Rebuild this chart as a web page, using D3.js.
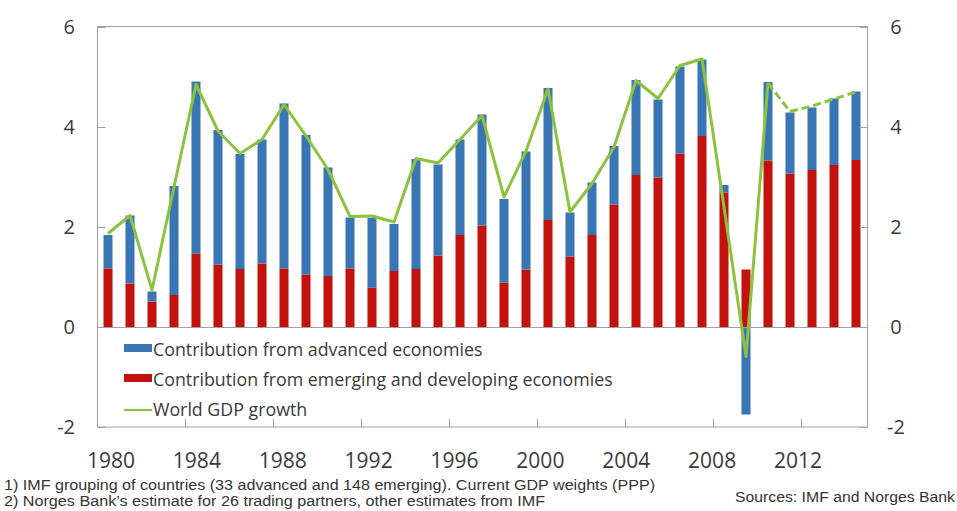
<!DOCTYPE html>
<html>
<head>
<meta charset="utf-8">
<script src="https://cdn.jsdelivr.net/npm/d3@7"></script>
<style>
  html, body { margin: 0; padding: 0; background: #ffffff; }
  svg { display: block; }
  text { font-family: "Open Sans", "Liberation Sans", Arial, sans-serif; fill: #3a3a3a; }
  text.note { font-family: "Liberation Sans Narrow", "Liberation Sans", Arial, sans-serif; fill: #333; }
</style>
</head>
<body>
<svg id="chart" width="957" height="511"></svg>
<script>
// ---------------- Data ----------------
const years = d3.range(1980, 2015);
const advanced = [0.67, 1.36, 0.20, 2.18, 3.44, 2.69, 2.30, 2.48, 3.30, 2.79,
                  2.17, 1.02, 1.39, 0.94, 2.20, 1.82, 1.91, 2.22, 1.67, 2.36,
                  2.64, 0.88, 1.05, 1.17, 1.90, 1.56, 1.74, 1.53, 0.15, -1.75,
                  1.57, 1.22, 1.25, 1.33, 1.37];
const emerging = [1.17, 0.87, 0.51, 0.64, 1.47, 1.25, 1.16, 1.27, 1.17, 1.05,
                  1.02, 1.17, 0.79, 1.12, 1.16, 1.43, 1.84, 2.03, 0.89, 1.15,
                  2.14, 1.41, 1.84, 2.45, 3.04, 2.99, 3.47, 3.82, 2.69, 1.15,
                  3.33, 3.07, 3.14, 3.24, 3.34];
const world = [1.87, 2.23, 0.74, 2.80, 4.85, 3.92, 3.47, 3.75, 4.45, 3.82,
               3.15, 2.21, 2.22, 2.10, 3.37, 3.28, 3.75, 4.23, 2.60, 3.52,
               4.76, 2.30, 2.87, 3.60, 4.93, 4.57, 5.23, 5.36, 2.40, -0.59,
               4.88, 4.31, 4.42, 4.56, 4.70];
const projectionStart = 2010;
const yTicks = [-2, 0, 2, 4, 6];
const xTickYears = [1980, 1984, 1988, 1992, 1996, 2000, 2004, 2008, 2012];
const seriesNames = ["Contribution from advanced economies",
                     "Contribution from emerging and developing economies",
                     "World GDP growth"];
const footnotes = ["1)  IMF grouping of countries (33 advanced and 148 emerging). Current GDP weights (PPP)",
                   "2)  Norges Bank\u2019s estimate for 26 trading partners, other estimates from IMF"];
const sourceText = "Sources: IMF and Norges Bank";

// ---------------- Styles ----------------
const COL_ADV = "#3a76b3";
const COL_EME = "#c3120d";
const COL_WORLD = "#8cc23f";
const COL_FRAME = "#a0a0a0";

const svg = d3.select("#chart");
const pLeft = 97, pRight = 867, pTop = 27, pBottom = 427;

const x = d3.scaleBand().domain(years).range([pLeft, pRight])
  .paddingInner(0.59).paddingOuter(0.295);
const y = d3.scaleLinear().domain([-2, 6]).range([pBottom, pTop]);
const xc = d => x(d) + x.bandwidth() / 2;

// table for stacking
const table = years.map((yr, i) => ({year: yr, adv: advanced[i], eme: emerging[i], world: world[i]}));
const stack = d3.stack().keys(["eme", "adv"]).offset(d3.stackOffsetDiverging);
const stacked = stack(table);
const colors = {eme: COL_EME, adv: COL_ADV};

// bars
const gBars = svg.append("g");
stacked.forEach(layer => {
  gBars.selectAll(null).data(layer).enter().append("rect")
    .attr("x", d => x(d.data.year))
    .attr("width", x.bandwidth())
    .attr("y", d => y(Math.max(d[0], d[1])))
    .attr("height", d => Math.abs(y(d[0]) - y(d[1])))
    .attr("fill", colors[layer.key]);
});

// zero line
svg.append("line")
  .attr("x1", pLeft).attr("x2", pRight)
  .attr("y1", Math.round(y(0)) + 0.5).attr("y2", Math.round(y(0)) + 0.5)
  .attr("stroke", COL_FRAME).attr("stroke-width", 1);

// frame
svg.append("rect")
  .attr("x", pLeft + 0.5).attr("y", pTop - 0.5)
  .attr("width", pRight - pLeft).attr("height", pBottom - pTop + 0.5)
  .attr("fill", "none").attr("stroke", COL_FRAME).attr("stroke-width", 1);

// y ticks (inward) both sides
const yAxisL = d3.axisLeft(y).tickValues(yTicks).tickSize(-8).tickFormat("");
const yAxisR = d3.axisRight(y).tickValues(yTicks).tickSize(-8).tickFormat("");
const gL = svg.append("g").attr("transform", `translate(${pLeft + 0.5},0)`).call(yAxisL);
const gR = svg.append("g").attr("transform", `translate(${pRight + 0.5},0)`).call(yAxisR);
[gL, gR].forEach(g => {
  g.select(".domain").remove();
  g.selectAll(".tick line").attr("stroke", COL_FRAME);
});

// y labels
svg.append("g").selectAll("text").data(yTicks).enter().append("text")
  .attr("x", 75).attr("y", d => y(d)).attr("dy", "0.36em")
  .attr("text-anchor", "end").attr("font-size", 20)
  .text(d => d);
svg.append("g").selectAll("text").data(yTicks).enter().append("text")
  .attr("x", 896).attr("y", d => y(d)).attr("dy", "0.36em")
  .attr("text-anchor", "middle").attr("font-size", 20)
  .text(d => d);

// x ticks (inward, at band boundaries every 4 years)
const halfGap = (x.step() - x.bandwidth()) / 2;
svg.append("g").selectAll("line").data(xTickYears).enter().append("line")
  .attr("x1", d => Math.round(x(d) - halfGap) + 0.5)
  .attr("x2", d => Math.round(x(d) - halfGap) + 0.5)
  .attr("y1", pBottom).attr("y2", pBottom - 8)
  .attr("stroke", COL_FRAME);

// x labels (label row is slightly compressed relative to the bars, as in the original)
const first = xTickYears[0], last = xTickYears[xTickYears.length - 1];
const xLab = d3.scaleLinear().domain([first, last]).range([xc(first) + 3, xc(last) - 14]);
svg.append("g").selectAll("text").data(xTickYears).enter().append("text")
  .attr("x", d => xLab(d))
  .attr("y", 468)
  .attr("text-anchor", "middle").attr("font-size", 21)
  .text(d => d);

// world line: solid until projection start, dashed after
const line = d3.line().x(d => xc(d.year)).y(d => y(d.world));
svg.append("path")
  .datum(table.filter(d => d.year <= projectionStart))
  .attr("d", line).attr("fill", "none")
  .attr("stroke", COL_WORLD).attr("stroke-width", 3).attr("stroke-linejoin", "round");
svg.append("path")
  .datum(table.filter(d => d.year >= projectionStart))
  .attr("d", line).attr("fill", "none")
  .attr("stroke", COL_WORLD).attr("stroke-width", 3)
  .attr("stroke-dasharray", "8,4");

// legend
const lg = svg.append("g");
const rowsY = [350, 380, 410];
lg.append("rect").attr("x", 124).attr("y", rowsY[0] - 6).attr("width", 28).attr("height", 8).attr("fill", COL_ADV);
lg.append("rect").attr("x", 124).attr("y", rowsY[1] - 6).attr("width", 28).attr("height", 8).attr("fill", COL_EME);
lg.append("line").attr("x1", 124).attr("x2", 152).attr("y1", rowsY[2]).attr("y2", rowsY[2])
  .attr("stroke", COL_WORLD).attr("stroke-width", 2.2);
lg.selectAll("text").data(seriesNames).enter().append("text")
  .attr("x", 153).attr("y", (d, i) => rowsY[i]).attr("dy", "0.36em")
  .attr("font-size", 17.8)
  .text(d => d);

// footnotes
const noteLen = [651, 541];
svg.append("g").selectAll("text").data(footnotes).enter().append("text")
  .attr("class", "note")
  .attr("x", 4).attr("y", (d, i) => 490 + i * 16)
  .attr("font-size", 14)
  .attr("textLength", (d, i) => noteLen[i]).attr("lengthAdjust", "spacingAndGlyphs")
  .text(d => d);
svg.append("text")
  .attr("class", "note")
  .attr("x", 735).attr("y", 502)
  .attr("font-size", 14)
  .attr("textLength", 220).attr("lengthAdjust", "spacingAndGlyphs")
  .text(sourceText);
</script>
</body>
</html>
